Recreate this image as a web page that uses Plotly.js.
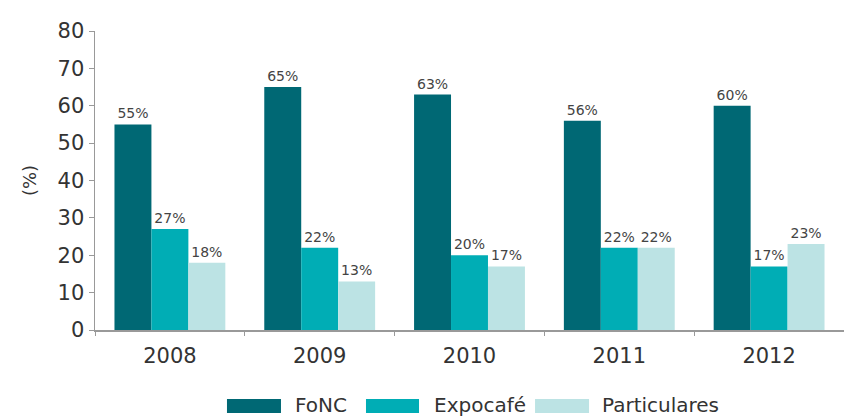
<!DOCTYPE html>
<html>
<head>
<meta charset="utf-8">
<script src="https://cdn.plot.ly/plotly-3.0.1.min.js"></script>
<style>html,body{margin:0;padding:0;background:#fff}#chart{width:844px;height:416px}</style>
</head>
<body>
<div id="chart"></div>
<script>
const years = ['2008', '2009', '2010', '2011', '2012'];
const fonc = [55, 65, 63, 56, 60];
const expocafe = [27, 22, 20, 22, 17];
const particulares = [18, 13, 17, 22, 23];
const seriesNames = ['FoNC', 'Expocafé', 'Particulares'];
const colors = ['#006874', '#00adb5', '#bce3e4'];

const allSeries = [fonc, expocafe, particulares];
const traces = allSeries.map((vals, i) => ({
  type: 'bar',
  name: seriesNames[i],
  x: years,
  y: vals,
  marker: {color: colors[i]},
  text: vals.map(v => v + '%'),
  textposition: 'outside',
  cliponaxis: false,
  textfont: {family: 'DejaVu Sans', size: 14, color: '#444'},
  hoverinfo: 'skip'
}));

// custom legend (wide swatches like the original)
const swatchX = [[0.1762, 0.2483], [0.3618, 0.4326], [0.5875, 0.6596]];
const labelX = [0.2644, 0.4499, 0.6742];
const shapes = swatchX.map((sx, i) => ({
  type: 'rect', xref: 'paper', yref: 'paper',
  x0: sx[0], x1: sx[1], y0: -0.2308, y1: -0.2776,
  fillcolor: colors[i], line: {width: 0}
}));
const annotations = seriesNames.map((n, i) => ({
  xref: 'paper', yref: 'paper', x: labelX[i], y: -0.2508,
  xanchor: 'left', yanchor: 'middle', showarrow: false,
  text: n, font: {family: 'DejaVu Sans', size: 20, color: '#333'}
}));

const layout = {
  width: 844, height: 416,
  margin: {l: 95, r: 0, t: 31, b: 86},
  barmode: 'group',
  bargap: 0.26,
  bargroupgap: 0,
  paper_bgcolor: '#fff',
  plot_bgcolor: '#fff',
  font: {family: 'DejaVu Sans', color: '#333'},
  showlegend: false,
  shapes: shapes,
  annotations: annotations,
  xaxis: {
    type: 'category',
    showline: true, linecolor: '#999', linewidth: 1.5,
    ticks: 'outside', tickson: 'boundaries', ticklen: 4, tickcolor: '#999',
    tickfont: {size: 21, color: '#333'}, ticklabelstandoff: 6,
    showgrid: false, zeroline: false
  },
  yaxis: {
    range: [0, 80], dtick: 10,
    showline: true, linecolor: '#999', linewidth: 1.5,
    ticks: 'outside', ticklen: 5, tickcolor: '#999',
    tickfont: {size: 21, color: '#333'},
    showgrid: false, zeroline: false,
    title: {text: '(%)', font: {size: 18, color: '#333'}, standoff: 16}
  }
};

Plotly.newPlot('chart', traces, layout, {displayModeBar: false, staticPlot: true});
</script>
</body>
</html>
